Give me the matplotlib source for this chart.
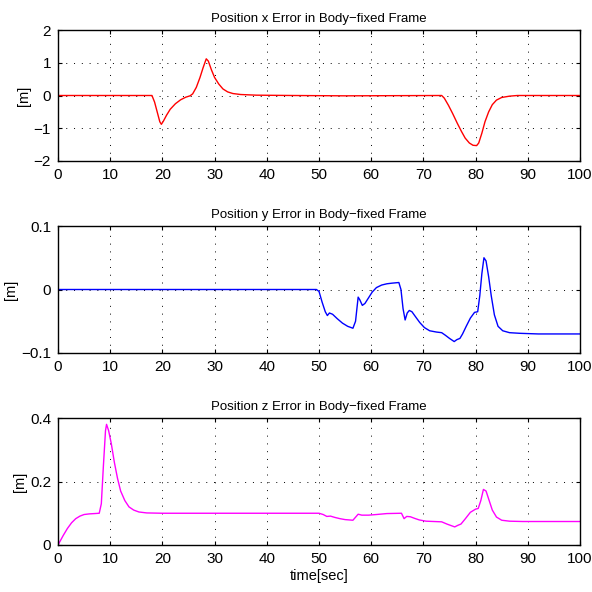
import matplotlib
matplotlib.use("Agg")
import matplotlib.pyplot as plt

plt.rcParams['font.family'] = ['Liberation Sans', 'DejaVu Sans']

# Error x (red)
tx = [0, 18, 18.5, 19, 19.5, 19.8, 20.2, 20.8, 21.5, 22.5, 23.5, 24.5, 25.3, 25.8, 26.5, 27.2, 27.8, 28.4, 28.8, 29.4, 30, 30.8, 31.6, 32.5, 33.5, 35, 38, 45, 55, 73.5, 74, 74.8, 75.6, 76.5, 77.3, 78, 78.8, 79.5, 80.2, 80.6, 81.2, 81.8, 82.5, 83.2, 84, 85, 86.5, 88, 100]
ex = [0, 0, -0.2, -0.5, -0.8, -0.88, -0.78, -0.6, -0.42, -0.25, -0.13, -0.05, -0.01, 0.05, 0.25, 0.55, 0.85, 1.12, 1.05, 0.78, 0.55, 0.35, 0.2, 0.11, 0.06, 0.03, 0.01, 0.0, -0.01, 0, -0.08, -0.3, -0.55, -0.85, -1.1, -1.3, -1.45, -1.52, -1.53, -1.45, -1.15, -0.8, -0.5, -0.28, -0.14, -0.06, -0.02, 0, 0]

# Error y (blue)
ty = [0, 49.5, 50, 50.6, 51.2, 51.6, 52, 52.6, 53.5, 54.5, 55.5, 56.5, 57, 57.5, 57.8, 58.3, 58.8, 59.5, 60.2, 61, 62, 63, 64, 65.3, 65.7, 66.1, 66.5, 66.9, 67.3, 67.8, 68.5, 69.3, 70.2, 71.2, 72.5, 73.5, 74.2, 75, 75.9, 76.4, 77, 77.5, 78.2, 79, 79.8, 80.4, 80.8, 81.2, 81.6, 82, 82.5, 83, 83.6, 84.3, 85.2, 86.5, 88.5, 92, 100]
ey = [0, 0, -0.003, -0.02, -0.035, -0.041, -0.037, -0.039, -0.046, -0.053, -0.058, -0.061, -0.05, -0.012, -0.016, -0.025, -0.022, -0.013, -0.004, 0.003, 0.007, 0.009, 0.01, 0.011, 0.0, -0.03, -0.048, -0.037, -0.033, -0.035, -0.043, -0.052, -0.06, -0.065, -0.067, -0.068, -0.072, -0.077, -0.082, -0.079, -0.077, -0.07, -0.058, -0.045, -0.036, -0.035, -0.01, 0.025, 0.05, 0.045, 0.02, -0.01, -0.04, -0.058, -0.065, -0.068, -0.069, -0.07, -0.07]

# Error z (magenta)
tz = [0, 0.5, 1, 1.8, 2.6, 3.4, 4.2, 5, 6, 7, 7.9, 8.3, 8.7, 9.1, 9.3, 9.7, 10.2, 10.8, 11.4, 12, 12.8, 13.6, 14.5, 15.5, 17, 20, 50, 50.8, 51.5, 52.2, 53, 54, 55, 56.5, 57.5, 58.2, 59.5, 61, 63, 65.8, 66.3, 66.8, 67.5, 68.3, 69.2, 70.5, 72, 73.5, 74.5, 75.5, 76, 76.6, 77.2, 78, 79, 80, 80.5, 81, 81.5, 82, 82.6, 83.2, 84, 85, 86.5, 89, 100]
ez = [0, 0.015, 0.03, 0.052, 0.07, 0.083, 0.091, 0.096, 0.098, 0.099, 0.1, 0.13, 0.25, 0.36, 0.38, 0.36, 0.32, 0.26, 0.21, 0.17, 0.14, 0.12, 0.11, 0.104, 0.101, 0.1, 0.1, 0.096, 0.09, 0.091, 0.087, 0.083, 0.08, 0.078, 0.097, 0.094, 0.094, 0.096, 0.099, 0.1, 0.083, 0.09, 0.089, 0.084, 0.079, 0.075, 0.074, 0.073, 0.066, 0.06, 0.057, 0.062, 0.066, 0.082, 0.103, 0.113, 0.115, 0.14, 0.175, 0.17, 0.14, 0.11, 0.088, 0.078, 0.075, 0.074, 0.074]

titulos = ['Position x Error in Body\u2212fixed Frame',
           'Position y Error in Body\u2212fixed Frame',
           'Position z Error in Body\u2212fixed Frame']

fig = plt.figure(figsize=(5.92, 5.92), dpi=100)
W, H = 592.0, 592.0
# (top, bottom) in pixels de cada subplot
cajas = [(30, 161), (226, 353), (418, 545)]
left, right = 58, 580

series = [(tx, ex, 'red', (-2, 2), [-2, -1, 0, 1, 2], ['\u22122', '\u22121', '0', '1', '2']),
          (ty, ey, 'blue', (-0.1, 0.1), [-0.1, 0, 0.1], ['\u22120.1', '0', '0.1']),
          (tz, ez, 'magenta', (0, 0.4), [0, 0.2, 0.4], ['0', '0.2', '0.4'])]

for i, (t, e, c, ylim, yt, ytl) in enumerate(series):
    top, bot = cajas[i]
    ax = fig.add_axes([left / W, 1 - bot / H, (right - left) / W, (bot - top) / H])
    ax.plot(t, e, color=c, linewidth=1.0)
    ax.set_xlim(0, 100)
    ax.set_ylim(*ylim)
    ax.set_xticks(range(0, 101, 10))
    ax.set_yticks(yt)
    ax.set_yticklabels(ytl)
    ax.tick_params(direction='in', length=3, labelsize=11, top=True, right=True, pad=5)
    ax.grid(True, linestyle=(0, (1, 7)), color='black', linewidth=0.7)
    for s in ax.spines.values():
        s.set_linewidth(1.0)
    ax.set_title(titulos[i], fontsize=9.5, pad=6)
    ax.set_ylabel('[m]', fontsize=10.5, labelpad=2)
    if i == 2:
        ax.set_xlabel('time[sec]', fontsize=10.5, labelpad=2)

fig.savefig('out.png', dpi=100)
